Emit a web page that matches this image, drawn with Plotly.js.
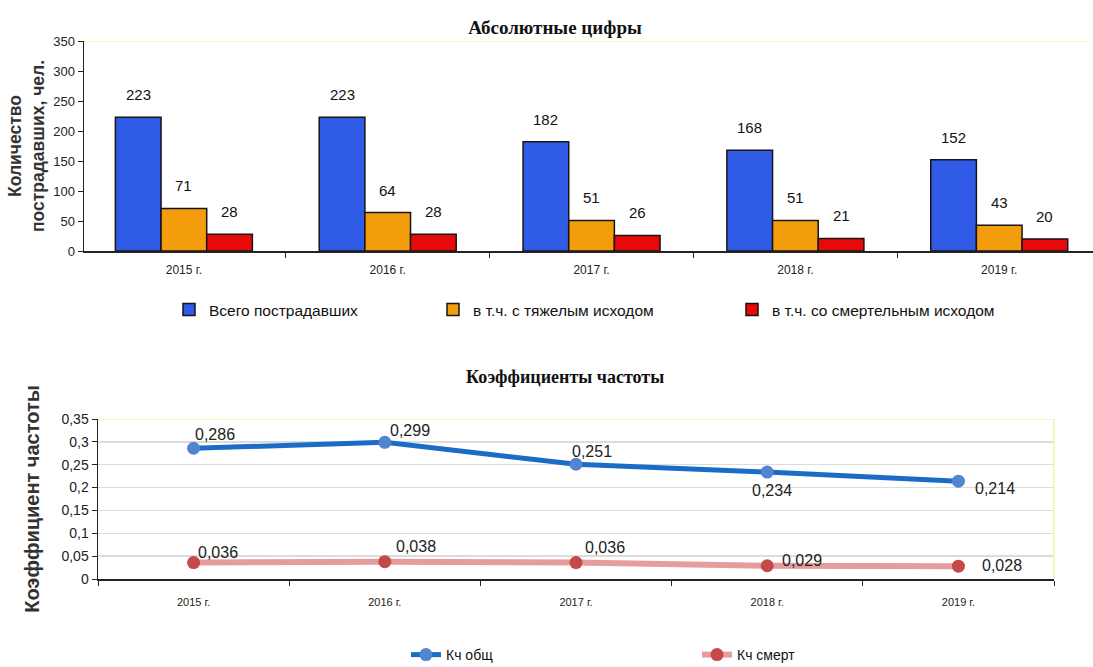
<!DOCTYPE html>
<html>
<head>
<meta charset="utf-8">
<script src="https://cdn.plot.ly/plotly-3.0.1.min.js"></script>
<style>html,body{margin:0;padding:0;background:#fff;}#chart{width:1093px;height:667px;}</style>
</head>
<body>
<div id="chart"></div>
<script>
// ---- data ----
const years = ['2015 г.', '2016 г.', '2017 г.', '2018 г.', '2019 г.'];
const barNames = ['Всего пострадавших', 'в т.ч. с тяжелым исходом', 'в т.ч. со смертельным исходом'];
const totalInjured = [223, 223, 182, 168, 152];
const severeOutcome = [71, 64, 51, 51, 43];
const fatalOutcome = [28, 28, 26, 21, 20];
const lineNames = ['Кч общ', 'Кч смерт'];
const kchTotal = [0.286, 0.299, 0.251, 0.234, 0.214];
const kchFatal = [0.036, 0.038, 0.036, 0.029, 0.028];

// ---- styles ----
const W = 1093, H = 667;
const NARROW = '"Liberation Sans", Arial, sans-serif';
const SANS = '"Liberation Sans", Arial, sans-serif';
const SERIF = '"Liberation Serif", "Times New Roman", serif';
const barColors = ['#2f5be6', '#f39c0c', '#e80a0a'];
const px = v => v / W, py = v => 1 - v / H;

const topXDomain = [px(84), 1];
const topXRange = [-0.49, 4.46];
const topYDomain = [py(251), py(41)];
const botXDomain = [px(98), px(1054)];
const botXRange = [-0.5, 4.5];
const botYDomain = [py(579), py(419)];
const topYMax = 350, botYMax = 0.35;
const bargap = 0.328;

// label offsets (pixels) of the line value labels relative to their points
const offTotal = [[21, -14], [25, -12], [16, -13], [5, 18], [37, 7]];
const offFatal = [[24, -10], [31, -15], [29, -15], [35, -5], [44, -1]];
// legend text start positions (pixels)
const barLegendX = [209, 473, 772];

const barSeries = [totalInjured, severeOutcome, fatalOutcome];
const legendIds = ['legend', 'legend2', 'legend3'];
const traces = barSeries.map((vals, i) => ({
  type: 'bar', x: years, y: vals, name: barNames[i],
  xaxis: 'x', yaxis: 'y', legend: legendIds[i],
  marker: {color: barColors[i], line: {color: '#151515', width: 1.5}},
  hoverinfo: 'y'
}));

traces.push({
  type: 'scatter', mode: 'lines+markers', x: years, y: kchTotal, name: lineNames[0],
  xaxis: 'x2', yaxis: 'y2', legend: 'legend4',
  line: {color: '#1b6cc6', width: 5},
  marker: {color: '#5284cf', size: 13},
  cliponaxis: false
});
traces.push({
  type: 'scatter', mode: 'lines+markers', x: years, y: kchFatal, name: lineNames[1],
  xaxis: 'x2', yaxis: 'y2', legend: 'legend4',
  line: {color: '#e59c9c', width: 6},
  marker: {color: '#c4494a', size: 13},
  cliponaxis: false
});

const fmt = v => v.toFixed(3).replace('.', ',');

// value labels above bars
const unitPx = (topXDomain[1] - topXDomain[0]) * W / (topXRange[1] - topXRange[0]);
const barPx = unitPx * (1 - bargap) / barSeries.length;
const annotations = [];
barSeries.forEach((vals, i) => {
  vals.forEach((v, j) => {
    annotations.push({
      x: years[j], y: v, xref: 'x', yref: 'y', text: String(v), showarrow: false,
      xshift: (i - 1) * barPx, yshift: 12, yanchor: 'bottom',
      font: {family: NARROW, size: 15, color: '#111'}
    });
  });
});
[[kchTotal, offTotal], [kchFatal, offFatal]].forEach(([vals, offs]) => {
  vals.forEach((v, j) => {
    annotations.push({
      x: years[j], y: v, xref: 'x2', yref: 'y2', text: fmt(v), showarrow: false,
      xshift: offs[j][0], yshift: -offs[j][1], xanchor: 'center', yanchor: 'middle',
      font: {family: NARROW, size: 16, color: '#222'}
    });
  });
});
annotations.push({
  text: 'Коэффициенты частоты', xref: 'paper', yref: 'paper', x: px(565), y: py(377),
  xanchor: 'center', yanchor: 'middle', showarrow: false,
  font: {family: SERIF, size: 18, color: '#111', weight: 'bold'}
});

const shapes = [
  {type: 'line', xref: 'x domain', yref: 'y', x0: 0, x1: 0.997, y0: topYMax, y1: topYMax, line: {color: '#f7efa8', width: 1.5}},
  {type: 'line', xref: 'x2 domain', yref: 'y2', x0: 0, x1: 1, y0: botYMax, y1: botYMax, line: {color: '#f7efa8', width: 1.5}},
  {type: 'line', xref: 'x2 domain', yref: 'y2', x0: 1, x1: 1, y0: 0, y1: botYMax, line: {color: '#f7efa8', width: 1.5}}
];

const axisCommon = {
  showline: true, linecolor: '#222', linewidth: 1.5, ticks: 'outside', ticklen: 5, tickcolor: '#222',
  zeroline: false, fixedrange: true
};

const legendCommon = {
  orientation: 'h', xref: 'paper', yref: 'container', xanchor: 'left', yanchor: 'middle',
  itemwidth: 30, bgcolor: 'rgba(0,0,0,0)',
  font: {family: NARROW, size: 15.5, color: '#111'}
};

const layout = {
  width: W, height: H,
  margin: {l: 0, r: 0, t: 0, b: 0, autoexpand: false},
  paper_bgcolor: '#fff', plot_bgcolor: 'rgba(0,0,0,0)',
  separators: ', ',
  barmode: 'group', bargap: bargap, bargroupgap: 0,
  title: {
    text: 'Абсолютные цифры', x: px(555), xanchor: 'center', y: py(27), yanchor: 'middle', yref: 'container',
    font: {family: SERIF, size: 19, color: '#111', weight: 'bold'}
  },
  xaxis: Object.assign({}, axisCommon, {
    domain: topXDomain, range: topXRange, type: 'category', tickson: 'boundaries', anchor: 'y',
    tickfont: {family: NARROW, size: 12, color: '#222'}, showgrid: false, ticklabelstandoff: 7
  }),
  yaxis: Object.assign({}, axisCommon, {
    domain: topYDomain, range: [0, topYMax], dtick: 50, anchor: 'x', showgrid: false,
    tickfont: {family: NARROW, size: 13, color: '#222'},
    title: {text: 'Количество<br>пострадавших, чел.', standoff: 4,
      font: {family: SANS, size: 17.5, color: '#333', weight: 'bold'}}
  }),
  xaxis2: Object.assign({}, axisCommon, {
    domain: botXDomain, range: botXRange, type: 'category', tickson: 'boundaries', anchor: 'y2',
    tickfont: {family: NARROW, size: 11, color: '#222'}, showgrid: false, ticklabelstandoff: 12
  }),
  yaxis2: Object.assign({}, axisCommon, {
    domain: botYDomain, range: [0, botYMax], dtick: 0.05, anchor: 'x2',
    showgrid: true, gridcolor: '#dcdcdc', gridwidth: 1.5,
    tickfont: {family: NARROW, size: 14, color: '#222'},
    title: {text: 'Коэффициент частоты', standoff: 16,
      font: {family: SANS, size: 20, color: '#333', weight: 'bold'}}
  }),
  legend: Object.assign({}, legendCommon, {x: px(barLegendX[0] - 40), y: py(310)}),
  legend2: Object.assign({}, legendCommon, {x: px(barLegendX[1] - 40), y: py(310)}),
  legend3: Object.assign({}, legendCommon, {x: px(barLegendX[2] - 40), y: py(310)}),
  legend4: Object.assign({}, legendCommon, {x: px(406), y: py(655), entrywidth: 246, font: {family: NARROW, size: 14, color: '#111'}}),
  annotations: annotations,
  shapes: shapes,
  showlegend: true
};

Plotly.newPlot('chart', traces, layout, {displayModeBar: false, staticPlot: true});
</script>
</body>
</html>
